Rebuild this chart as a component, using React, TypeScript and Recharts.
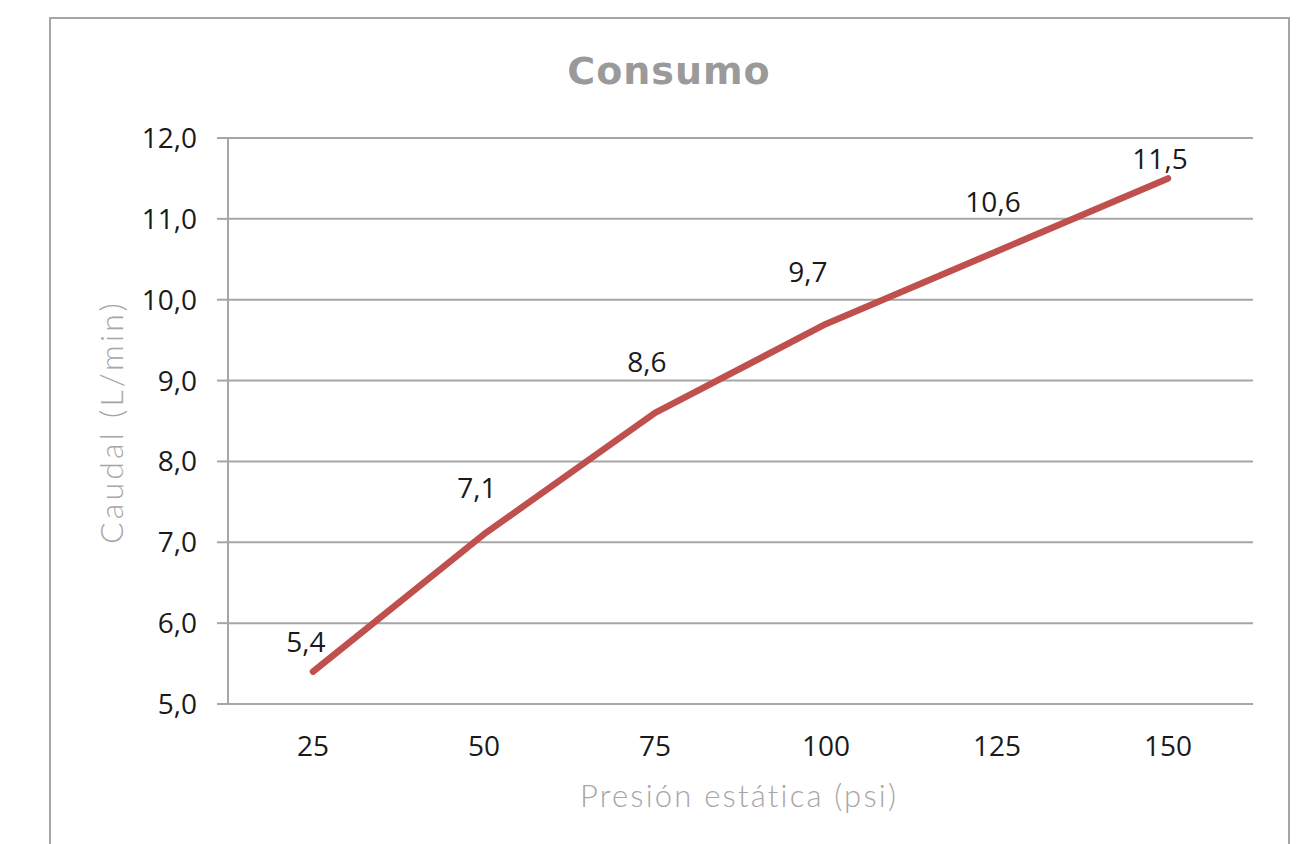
import React from "react";
import { LineChart, Line, XAxis, YAxis, CartesianGrid, LabelList } from "recharts";

const categories = ["25", "50", "75", "100", "125", "150"];
const caudal = [5.4, 7.1, 8.6, 9.7, 10.6, 11.5];
const yTicks = [5, 6, 7, 8, 9, 10, 11, 12];

// label nudges (relative to each point), as placed in the original
const labelDx = [-7, -7, -8, -18, -4, -8];
const labelDy = [-20, -36, -41, -42, -39, -9];

const data = categories.map((c, i) => ({ presion: c, caudal: caudal[i] }));

const fmt = (v: number) => v.toFixed(1).replace(".", ",");

const TICK_FONT = "'Open Sans', 'Noto Sans', sans-serif";
const TITLE_FONT = "Lato, 'Open Sans', sans-serif";
const GRID = "#a6a6a6";

const DataLabel = (props: any) => {
  const { x, y, value, index } = props;
  return (
    <text
      x={x + labelDx[index]}
      y={y + labelDy[index]}
      textAnchor="middle"
      fontFamily={TICK_FONT}
      fontSize={28}
      fill="#1a1a1a"
    >
      {fmt(value)}
    </text>
  );
};

export default function App() {
  return (
    <div
      style={{
        position: "absolute",
        left: 0,
        top: 0,
        width: 1301,
        height: 844,
        overflow: "hidden",
        background: "#fff",
      }}
    >
      <div
        style={{
          position: "absolute",
          left: 49,
          top: 17,
          width: 1237,
          height: 900,
          border: `2px solid ${GRID}`,
        }}
      />
      <div style={{ position: "absolute", left: 0, top: 0 }}>
        <LineChart
          width={1301}
          height={844}
          data={data}
          margin={{ top: 138, right: 48, bottom: 110, left: 168 }}
        >
          <text
            x={669}
            y={84}
            textAnchor="middle"
            fontFamily="'DejaVu Sans', sans-serif"
            fontWeight={700}
            fontSize={38}
            letterSpacing={1}
            fill="#9a9a9a"
          >
            Consumo
          </text>
          <text
            x={739}
            y={807}
            textAnchor="middle"
            fontFamily={TITLE_FONT}
            fontWeight={300}
            fontSize={31}
            letterSpacing={2.2}
            fill="#a6a6a6"
          >
            Presión estática (psi)
          </text>
          <text
            x={123}
            y={422}
            textAnchor="middle"
            transform="rotate(-90 123 422)"
            fontFamily={TITLE_FONT}
            fontWeight={300}
            fontSize={32}
            letterSpacing={3.2}
            fill="#a6a6a6"
          >
            Caudal (L/min)
          </text>
          <CartesianGrid vertical={false} stroke={GRID} strokeWidth={2} />
          <XAxis
            dataKey="presion"
            padding={{ left: 85, right: 85 }}
            axisLine={{ stroke: GRID, strokeWidth: 2 }}
            tickLine={false}
            tickSize={0}
            tickMargin={32}
            height={30}
            tick={{ fontFamily: TICK_FONT, fontSize: 28, fill: "#1a1a1a" }}
          />
          <YAxis
            domain={[5, 12]}
            ticks={yTicks}
            tickFormatter={fmt}
            width={60}
            axisLine={{ stroke: GRID, strokeWidth: 2 }}
            tickLine={{ stroke: GRID, strokeWidth: 2 }}
            tickSize={11}
            tickMargin={20}
            tick={{ fontFamily: TICK_FONT, fontSize: 28, fill: "#1a1a1a" }}
            interval={0}
          />
          <Line
            type="linear"
            dataKey="caudal"
            stroke="#c0504d"
            strokeWidth={6.5}
            strokeLinecap="round"
            strokeLinejoin="round"
            dot={false}
            activeDot={false}
            isAnimationActive={false}
          >
            <LabelList dataKey="caudal" content={<DataLabel />} />
          </Line>
        </LineChart>
      </div>
    </div>
  );
}
